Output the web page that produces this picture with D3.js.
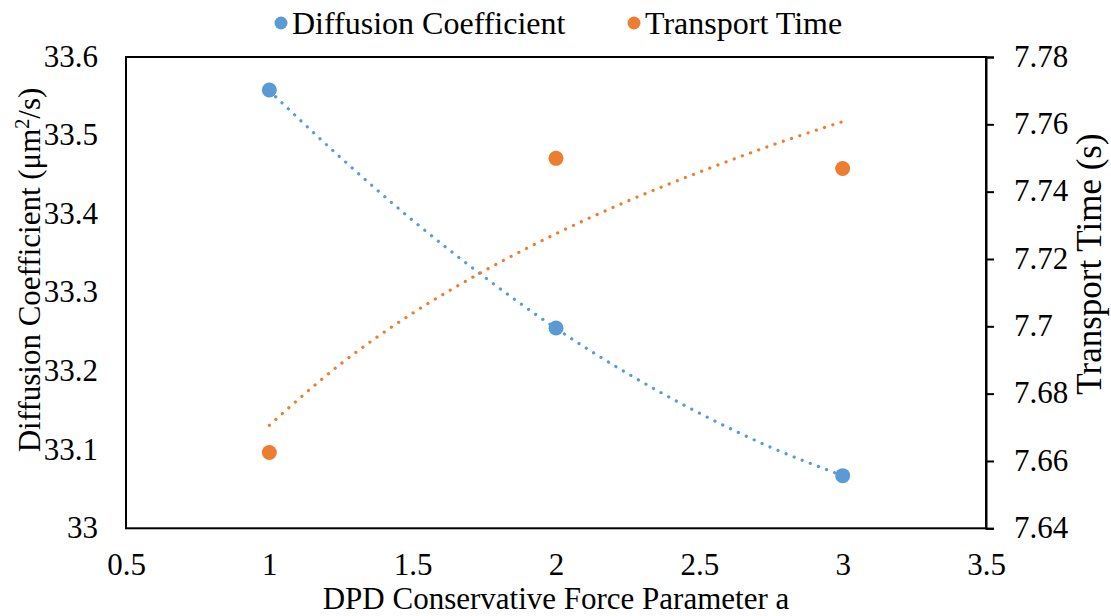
<!DOCTYPE html>
<html>
<head>
<meta charset="utf-8">
<script src="https://cdn.jsdelivr.net/npm/d3@7"></script>
<style>
  html, body { margin: 0; padding: 0; background: #fff; }
  svg { display: block; }
  svg text { font-family: "Liberation Serif", "Times New Roman", Times, Tinos, "Nimbus Roman", "DejaVu Serif", serif !important; }
</style>
</head>
<body>
<svg id="chart" width="1111" height="616"></svg>
<script>
// ---- data ----
const xValues = [1, 2, 3];
const diffusion = [33.558, 33.255, 33.067];
const transport = [7.6625, 7.7499, 7.7469];

// trendline values
const trendX = [1, 1.25, 1.5, 1.75, 2, 2.25, 2.5, 2.75, 3];
const diffusionTrend = [33.557, 33.4715, 33.392, 33.320, 33.2545, 33.197, 33.1466, 33.103, 33.067];
const transportTrend = [7.6706, 7.6889, 7.7039, 7.7165, 7.7275, 7.7372, 7.7458, 7.7537, 7.7608];

const xTicks = [0.5, 1, 1.5, 2, 2.5, 3, 3.5];
const xTickLabels = ["0.5", "1", "1.5", "2", "2.5", "3", "3.5"];
const leftTicks = [33, 33.1, 33.2, 33.3, 33.4, 33.5, 33.6];
const leftTickLabels = ["33", "33.1", "33.2", "33.3", "33.4", "33.5", "33.6"];
const rightTicks = [7.64, 7.66, 7.68, 7.7, 7.72, 7.74, 7.76, 7.78];
const rightTickLabels = ["7.64", "7.66", "7.68", "7.7", "7.72", "7.74", "7.76", "7.78"];

const seriesNames = ["Diffusion Coefficient", "Transport Time"];
const colors = ["#5B9BD5", "#ED7D31"];

// ---- layout ----
const plot = { left: 126, right: 986, top: 57, bottom: 528.3 };
const svg = d3.select("#chart");

const x = d3.scaleLinear().domain([0.5, 3.5]).range([plot.left, plot.right]);
const yL = d3.scaleLinear().domain([33, 33.6]).range([plot.bottom, plot.top]);
const yR = d3.scaleLinear().domain([7.64, 7.78]).range([plot.bottom, plot.top]);

// plot border
svg.append("rect")
  .attr("x", plot.left).attr("y", plot.top)
  .attr("width", plot.right - plot.left).attr("height", plot.bottom - plot.top)
  .attr("fill", "none").attr("stroke", "#000").attr("stroke-width", 2);

// bottom axis (labels only)
const xAxis = d3.axisBottom(x).tickValues(xTicks)
  .tickFormat((d, i) => xTickLabels[i]).tickSize(0).tickPadding(0);
const gx = svg.append("g").attr("transform", `translate(0,${plot.bottom})`).call(xAxis);
gx.attr("font-family", null);
gx.select(".domain").remove();
gx.selectAll("text").attr("font-size", 31)
  .attr("fill", "#000").attr("y", 47).attr("dy", null);

// left axis (labels only)
const yAxisL = d3.axisLeft(yL).tickValues(leftTicks)
  .tickFormat((d, i) => leftTickLabels[i]).tickSize(0).tickPadding(28);
const gl = svg.append("g").attr("transform", `translate(${plot.left},0)`).call(yAxisL);
gl.attr("font-family", null);
gl.select(".domain").remove();
gl.selectAll("text").attr("font-size", 31)
  .attr("fill", "#000").attr("dy", "0.3em");

// right axis with outward ticks
const yAxisR = d3.axisRight(yR).tickValues(rightTicks)
  .tickFormat((d, i) => rightTickLabels[i]).tickSize(8).tickPadding(20);
const gr = svg.append("g").attr("transform", `translate(${plot.right},0)`).call(yAxisR);
gr.attr("font-family", null);
gr.select(".domain").attr("stroke", "#000").attr("stroke-width", 2);
gr.selectAll(".tick line").attr("stroke", "#000").attr("stroke-width", 2);
gr.selectAll("text").attr("font-size", 31)
  .attr("fill", "#000").attr("dy", "0.3em");

// trendlines
const dotted = (sel, color) => sel.attr("fill", "none").attr("stroke", color)
  .attr("stroke-width", 3.2).attr("stroke-linecap", "round").attr("stroke-dasharray", "0.1 8.6");

const lineL = d3.line().x((d, i) => x(trendX[i])).y(d => yL(d)).curve(d3.curveMonotoneX);
const lineR = d3.line().x((d, i) => x(trendX[i])).y(d => yR(d)).curve(d3.curveMonotoneX);

svg.append("path").datum(diffusionTrend).attr("d", lineL).call(dotted, colors[0]);
svg.append("path").datum(transportTrend).attr("d", lineR).call(dotted, colors[1]);

// points
svg.append("g").selectAll("circle").data(diffusion).join("circle")
  .attr("cx", (d, i) => x(xValues[i])).attr("cy", d => yL(d)).attr("r", 7.5).attr("fill", colors[0]);
svg.append("g").selectAll("circle").data(transport).join("circle")
  .attr("cx", (d, i) => x(xValues[i])).attr("cy", d => yR(d)).attr("r", 7.5).attr("fill", colors[1]);

// axis titles
svg.append("text").attr("x", (plot.left + plot.right) / 2).attr("y", 609)
  .attr("text-anchor", "middle").attr("font-size", 31).attr("fill", "#000")
  .text("DPD Conservative Force Parameter a");

const lt = svg.append("text").attr("transform", "translate(40,270) rotate(-90)")
  .attr("text-anchor", "middle").attr("font-size", 31).attr("fill", "#000");
lt.append("tspan").text("Diffusion Coefficient (μm");
lt.append("tspan").attr("font-size", 20).attr("dy", -11).text("2");
lt.append("tspan").attr("dy", 11).text("/s)");

svg.append("text").attr("transform", "translate(1101,264) rotate(-90)")
  .attr("text-anchor", "middle").attr("font-size", 35).attr("fill", "#000")
  .text("Transport Time (s)");

// legend
const legendX = [281, 634];
const legend = svg.append("g");
seriesNames.forEach((name, i) => {
  legend.append("circle").attr("cx", legendX[i]).attr("cy", 23).attr("r", 6.5).attr("fill", colors[i]);
  legend.append("text").attr("x", legendX[i] + 11).attr("y", 34).attr("font-size", 32)
    .attr("fill", "#000").text(name);
});
</script>
</body>
</html>
